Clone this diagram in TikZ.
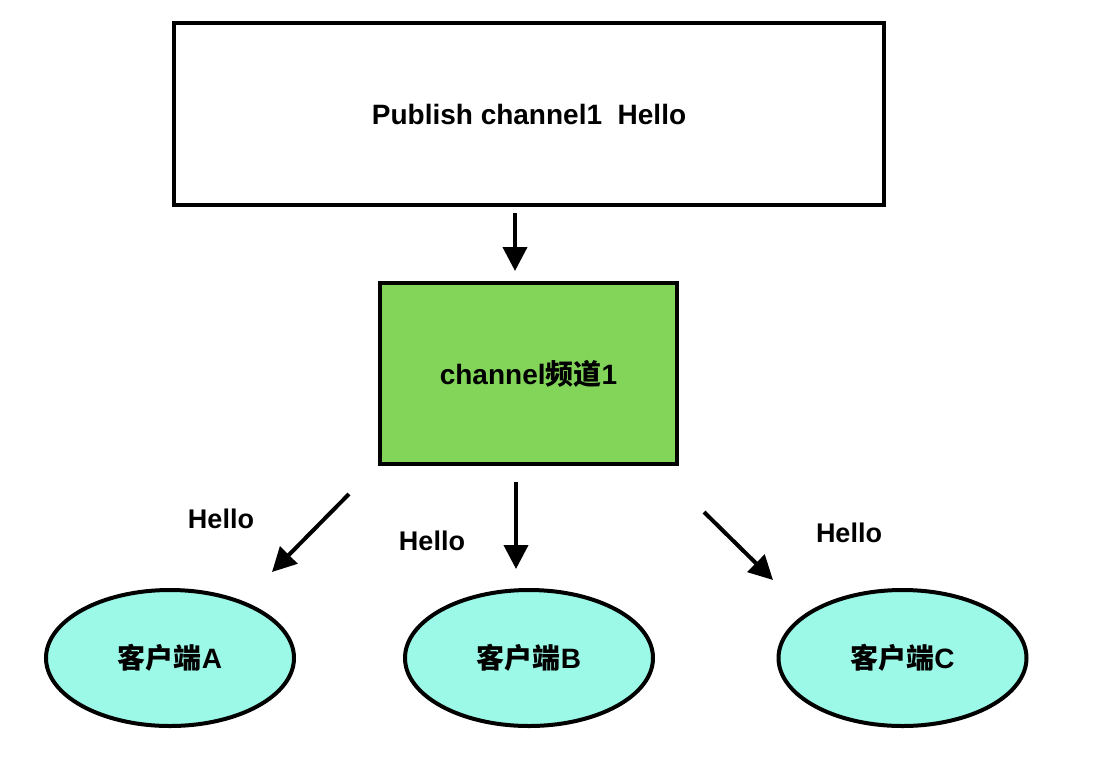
\documentclass[tikz,border=0pt]{standalone}
\usepackage{fontspec}
\setmainfont{Liberation Sans}
\newfontfamily\cjk{Noto Sans CJK SC}
\usetikzlibrary{arrows.meta,shapes.geometric}
\definecolor{boxgreen}{HTML}{83D55A}
\definecolor{clientcyan}{HTML}{9CF8E7}
\tikzset{
  box/.style={draw=black, line width=4pt, rectangle, inner sep=0pt, align=center},
  client/.style={draw=black, line width=4pt, ellipse, fill=clientcyan, inner sep=0pt,
    minimum width=248pt, minimum height=136pt, font=\fontsize{28}{32}\selectfont\bfseries},
  arr/.style={line width=4pt, -{Triangle[length=24pt,width=24pt]}},
  lbl/.style={font=\fontsize{27}{30}\selectfont\bfseries, inner sep=0pt}
}
\begin{document}
\begin{tikzpicture}[x=1pt,y=-1pt]
\useasboundingbox (0,0) rectangle (1096,772);
\node[box, minimum width=710pt, minimum height=182pt, font=\fontsize{28}{32}\selectfont\bfseries] (pub) at (529,114) {\raisebox{-2pt}{Publish channel1\ \ Hello}};
\node[box, fill=boxgreen, minimum width=297pt, minimum height=181pt, font=\fontsize{28}{32}\selectfont\bfseries] (chan) at (528.5,373.5) {channel{\cjk\bfseries 频道}1};
\node[client] (ca) at (170,658) {{\cjk\bfseries 客户端}A};
\node[client] (cb) at (529,658) {{\cjk\bfseries 客户端}B};
\node[client] (cc) at (902.5,658) {{\cjk\bfseries 客户端}C};
\coordinate (p0) at (515,213);
\coordinate (p1) at (515,271);
\coordinate (a0) at (349,494);
\coordinate (a1) at (272,572);
\coordinate (b0) at (516,482);
\coordinate (b1) at (516,569);
\coordinate (c0) at (704,512);
\coordinate (c1) at (773,580);
\draw[arr] (p0) -- (p1);
\draw[arr] (a0) -- (a1);
\draw[arr] (b0) -- (b1);
\draw[arr] (c0) -- (c1);
\node[lbl] (ha) at (221,519) {Hello};
\node[lbl] (hb) at (432,541) {Hello};
\node[lbl] (hc) at (849,533) {Hello};
\end{tikzpicture}
\end{document}
